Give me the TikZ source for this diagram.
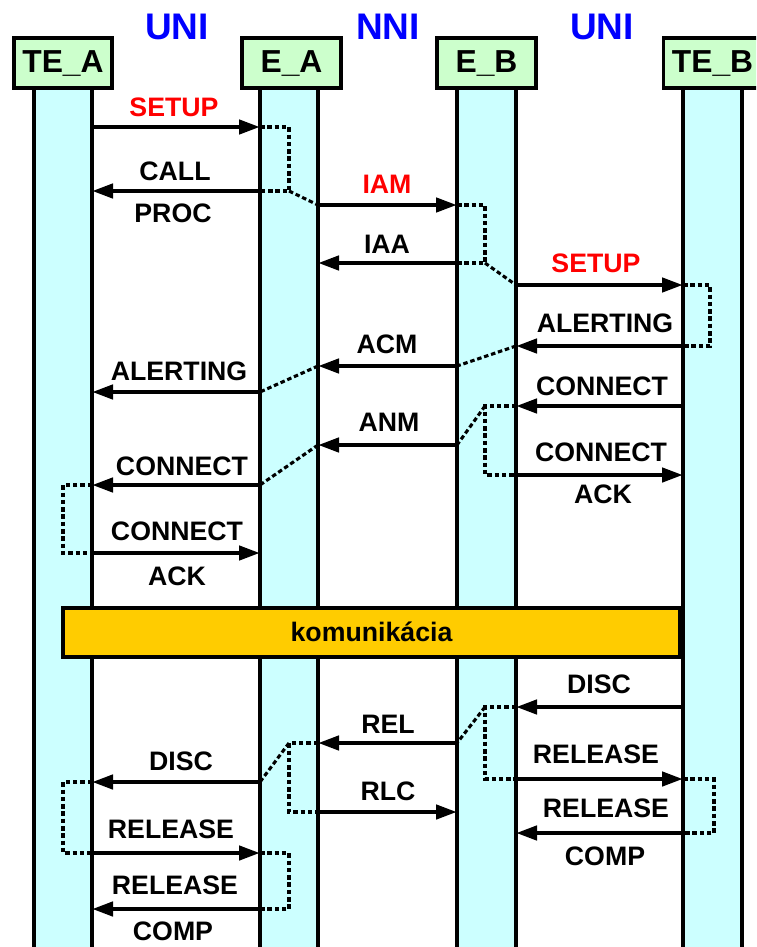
\documentclass[tikz,border=0pt]{standalone}
\usepackage{fontspec}
\setmainfont{Liberation Sans}
\usetikzlibrary{arrows.meta}
\definecolor{barcyan}{RGB}{204,255,255}
\definecolor{hdrgreen}{RGB}{204,255,204}
\definecolor{commgold}{RGB}{255,204,0}
\definecolor{ifblue}{RGB}{0,0,255}
\definecolor{msgred}{RGB}{255,0,0}
\newcommand{\Msg}[4]{%
  \coordinate (#1s) at (#2,#4);
  \coordinate (#1e) at (#3,#4);
  \draw[msgarrow] (#1s) -- (#1e);}
\begin{document}
\begin{tikzpicture}[x=1pt,y=-1pt,
  lifebar/.style={draw=black,line width=3.4pt,fill=barcyan},
  hdr/.style={draw=black,line width=3.8pt,fill=hdrgreen,minimum width=98pt,minimum height=50pt,
    inner sep=0pt,text height=20pt,text depth=0pt,font=\bfseries\fontsize{31.8}{34}\selectfont},
  iface/.style={anchor=base,inner sep=0pt,text=ifblue,font=\bfseries\fontsize{37}{40}\selectfont},
  lbl/.style={anchor=base,inner sep=0pt,font=\bfseries\fontsize{26.7}{30}\selectfont},
  redlbl/.style={lbl,text=msgred},
  msgarrow/.style={line width=4.4pt,-{Triangle[length=21pt,width=14pt]}},
  dsh/.style={line width=3.1pt,dash pattern=on 4.5pt off 2.8pt},
  commbox/.style={draw=black,line width=3.8pt,fill=commgold,minimum width=617pt,minimum height=49pt,
    inner sep=0pt,text height=17pt,text depth=0pt,font=\bfseries\fontsize{26.7}{30}\selectfont}]
\useasboundingbox (0,0) rectangle (756,947);
\clip (0,0) rectangle (756,947);
\fill[white] (0,0) rectangle (756,947);
% lifelines
\foreach \a/\b in {34/92,260/318,457/516,683/742}
  \draw[lifebar] (\a,88) rectangle (\b,970);
% headers
\node[hdr] (hTEA) at (63,63) {TE\_A};
\node[hdr,minimum width=99pt] (hEA) at (291.5,63) {E\_A};
\node[hdr,minimum width=99pt] (hEB) at (486.5,63) {E\_B};
\node[hdr] (hTEB) at (712.5,63) {TE\_B};
% interface labels
\node[iface] (u1) at (177,40) {UNI};
\node[iface] (u2) at (388,40) {NNI};
\node[iface] (u3) at (602,40) {UNI};
% messages
\Msg{m1}{92}{260}{127}
\Msg{m2}{260}{92}{191}
\Msg{m3}{318}{457}{205}
\Msg{m4}{457}{318}{263}
\Msg{m5}{516}{683}{285}
\Msg{m6}{683}{516}{346}
\Msg{m7}{457}{318}{366}
\Msg{m8}{260}{92}{392}
\Msg{m9}{683}{516}{406}
\Msg{m10}{457}{318}{445}
\Msg{m11}{516}{683}{475}
\Msg{m12}{260}{92}{485}
\Msg{m13}{92}{260}{553}
\Msg{m14}{683}{516}{707}
\Msg{m15}{457}{318}{743}
\Msg{m16}{516}{683}{779}
\Msg{m17}{260}{92}{782}
\Msg{m18}{318}{457}{812}
\Msg{m19}{683}{516}{833}
\Msg{m20}{92}{260}{853}
\Msg{m21}{260}{92}{909}
% dashed internal connections
\draw[dsh] (m1e) -- ++(29,0) coordinate (k1) |- (m2s);
\draw[dsh] (k1 |- m2s) -- (m3s);
\draw[dsh] (m3e) -- ++(28,0) coordinate (k2) |- (m4s);
\draw[dsh] (k2 |- m4s) -- (m5s);
\draw[dsh] (m5e) -- ++(27,0) |- (m6s);
\draw[dsh] (m6e) -- (m7s);
\draw[dsh] (m7e) -- (m8s);
\draw[dsh] (m9e) -- ++(-31,0) coordinate (k3) |- (m11s);
\draw[dsh] (k3) -- (m10s);
\draw[dsh] (m10e) -- (m12s);
\draw[dsh] (m12e) -- ++(-29,0) |- (m13s);
\draw[dsh] (m14e) -- ++(-31,0) coordinate (k4) |- (m16s);
\draw[dsh] (k4) -- (m15s);
\draw[dsh] (m16e) -- ++(31,0) |- (m19s);
\draw[dsh] (m15e) -- ++(-29,0) coordinate (k5) |- (m18s);
\draw[dsh] (k5) -- (m17s);
\draw[dsh] (m17e) -- ++(-29,0) |- (m20s);
\draw[dsh] (m20e) -- ++(29,0) |- (m21s);
% labels left
\node[redlbl] (t1) at (174,117) {SETUP};
\node[lbl] (t2) at (175,180) {CALL};
\node[lbl] (t3) at (173,222) {PROC};
\node[lbl] (t4) at (179,380) {ALERTING};
\node[lbl] (t5) at (182,475) {CONNECT};
\node[lbl] (t6) at (177,540) {CONNECT};
\node[lbl] (t7) at (177,585) {ACK};
\node[lbl] (t8) at (181,770) {DISC};
\node[lbl] (t9) at (171,838) {RELEASE};
\node[lbl] (t10) at (175,894) {RELEASE};
\node[lbl] (t11) at (173,940) {COMP};
% labels middle
\node[redlbl] (t12) at (387,193) {IAM};
\node[lbl] (t13) at (387,253) {IAA};
\node[lbl] (t14) at (387,353) {ACM};
\node[lbl] (t15) at (389,431) {ANM};
\node[lbl] (t16) at (388,733) {REL};
\node[lbl] (t17) at (388,800) {RLC};
% labels right
\node[redlbl] (t18) at (596,272) {SETUP};
\node[lbl] (t19) at (605,332) {ALERTING};
\node[lbl] (t20) at (602,395) {CONNECT};
\node[lbl] (t21) at (601,461) {CONNECT};
\node[lbl] (t22) at (603,503) {ACK};
\node[lbl] (t23) at (599,693) {DISC};
\node[lbl] (t24) at (596,763) {RELEASE};
\node[lbl] (t25) at (606,817) {RELEASE};
\node[lbl] (t26) at (605,865) {COMP};
% communication box
\node[commbox] (comm) at (371.5,632.5) {komunikácia};
\end{tikzpicture}
\end{document}
